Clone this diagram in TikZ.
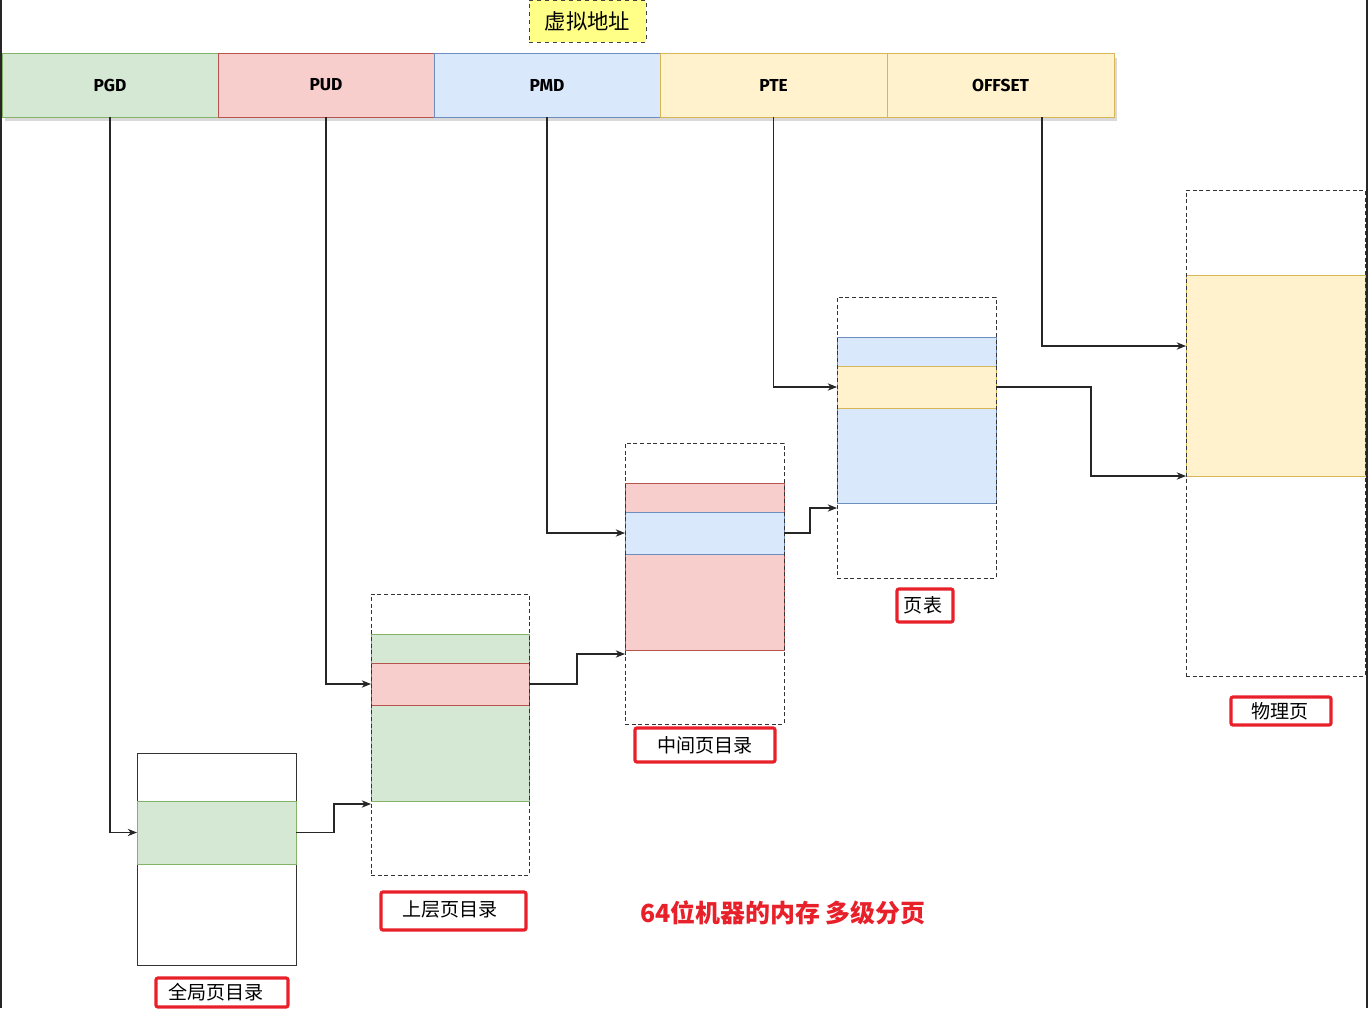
\documentclass[tikz,border=0pt]{standalone}
\usepackage{fontspec}
\setmainfont{Liberation Sans}
\newfontfamily\cjk{Noto Sans CJK SC}
\newfontfamily\barfont{Fira Sans}
\usetikzlibrary{arrows.meta,calc}
\definecolor{gfill}{HTML}{D5E8D4}
\definecolor{gline}{HTML}{82B366}
\definecolor{rfill}{HTML}{F8CECC}
\definecolor{rline}{HTML}{B85450}
\definecolor{bfill}{HTML}{DAE8FC}
\definecolor{bline}{HTML}{6C8EBF}
\definecolor{yfill}{HTML}{FFF2CC}
\definecolor{yline}{HTML}{D6B656}
\definecolor{note}{HTML}{FFFF88}
\definecolor{tred}{HTML}{E8202A}
\begin{document}
\begin{tikzpicture}[x=0.75pt,y=-0.75pt,
  rect/.style 2 args={minimum width=#1*0.75pt, minimum height=#2*0.75pt, anchor=north west, inner sep=0pt, outer sep=0pt},
  gbox/.style={fill=gfill, draw=gline, line width=0.75pt},
  rbox/.style={fill=rfill, draw=rline, line width=0.75pt},
  bbox/.style={fill=bfill, draw=bline, line width=0.75pt},
  ybox/.style={fill=yfill, draw=yline, line width=0.75pt},
  dbox/.style={draw=black!80, dashed, line width=0.75pt, dash pattern=on 3pt off 2pt},
  sbox/.style={draw=black!80, line width=0.75pt},
  barlabel/.style={font=\barfont\bfseries\fontsize{13}{13}\selectfont},
  lbl/.style={draw=tred, line width=2.4pt, rounded corners=1.5pt, fill=white, inner sep=0pt, font=\cjk\fontsize{14.3}{14}\selectfont},
  arr/.style={draw=black!85, line width=0.8pt, -{Stealth[length=7pt,width=5.5pt]}}
]
\useasboundingbox (0,0) rectangle (1368,1008);
\clip (0,0) rectangle (1368,1008);
\fill[white] (0,0) rectangle (1368,1008);
% screen edges
\draw[black!85, line width=1.5pt] (1,0) -- (1,1008);
\draw[black!85, line width=1.5pt] (1366.5,0) -- (1366.5,1008);

% virtual address label
\node[rect={117}{42}, fill=note, draw=black!75, dashed, line width=0.75pt, font=\cjk\fontsize{16}{16}\selectfont] (va) at (529,0) {虚拟地址};

% address bar
\fill[black!15] (5,58) rectangle (1117,121);
\node[rect={216}{64}, gbox, barlabel] (pgd) at (2,53) {PGD};
\node[rect={216}{64}, rbox, barlabel] (pud) at (218,53) {PUD};
\node[rect={226}{64}, bbox, barlabel] (pmd) at (434,53) {PMD};
\node[rect={227}{64}, ybox, barlabel] (pte) at (660,53) {PTE};
\node[rect={227}{64}, ybox, barlabel] (off) at (887,53) {OFFSET};

% global page directory
\node[rect={159}{212}, sbox, fill=white] (gpd) at (137,753) {};
\node[rect={159}{63}, gbox] (gent) at (137,801) {};

% upper page directory
\node[rect={158}{167}, gbox] (ufill) at (371,634) {};
\node[rect={158}{42}, rbox] (uent) at (371,663) {};
\node[rect={158}{281}, dbox] (upd) at (371,594) {};

% middle page directory
\node[rect={159}{167}, rbox] (mfill) at (625,483) {};
\node[rect={159}{42}, bbox] (ment) at (625,512) {};
\node[rect={159}{281}, dbox] (mpd) at (625,443) {};

% page table
\node[rect={159}{166}, bbox] (pfill) at (837,337) {};
\node[rect={159}{42}, ybox] (pent) at (837,366) {};
\node[rect={159}{281}, dbox] (ptb) at (837,297) {};

% physical page
\node[rect={179}{201}, ybox] (phfill) at (1186,275) {};
\node[rect={179}{486}, dbox] (phys) at (1186,190) {};

% targets
\coordinate (t1) at (371,804);
\coordinate (t2) at (625,654);
\coordinate (t3) at (837,508);
\coordinate (t4) at (1186,476);
\coordinate (t5) at (1186,346);

% connectors
\draw[arr] (pgd.south) |- (gent.west);
\draw[arr] (gent.east) -- ++(38,0) |- (t1);
\draw[arr] (pud.south) |- (uent.west);
\draw[arr] (uent.east) -- ++(48,0) |- (t2);
\draw[arr] (pmd.south) |- (ment.west);
\draw[arr] (ment.east) -- ++(26,0) |- (t3);
\draw[arr] (pte.south) |- (pent.west);
\draw[arr] (pent.east) -- ++(95,0) |- (t4);
\draw[arr] ([xshift=41.5*0.75pt]off.south) |- (t5);

% labels
\node[lbl, minimum width=132*0.75pt, minimum height=29*0.75pt] (lg) at (222,992.5) {\hspace*{-9pt}全局页目录};
\node[lbl, minimum width=145*0.75pt, minimum height=38*0.75pt] (lu) at (453.5,911) {\hspace*{-5pt}\raisebox{3pt}{上层页目录}};
\node[lbl, minimum width=140*0.75pt, minimum height=34*0.75pt] (lm) at (705,745) {中间页目录};
\node[lbl, minimum width=56*0.75pt, minimum height=33*0.75pt] (lp) at (925,605.5) {\hspace*{-3pt}页表};
\node[lbl, minimum width=100*0.75pt, minimum height=28*0.75pt] (lph) at (1281,711) {\hspace*{-2pt}\raisebox{1.5pt}{物理页}};

% title
\node[font=\cjk\bfseries\fontsize{18.7}{19}\selectfont, text=tred] (title) at (783,913) {64位机器的内存 多级分页};
\end{tikzpicture}
\end{document}
